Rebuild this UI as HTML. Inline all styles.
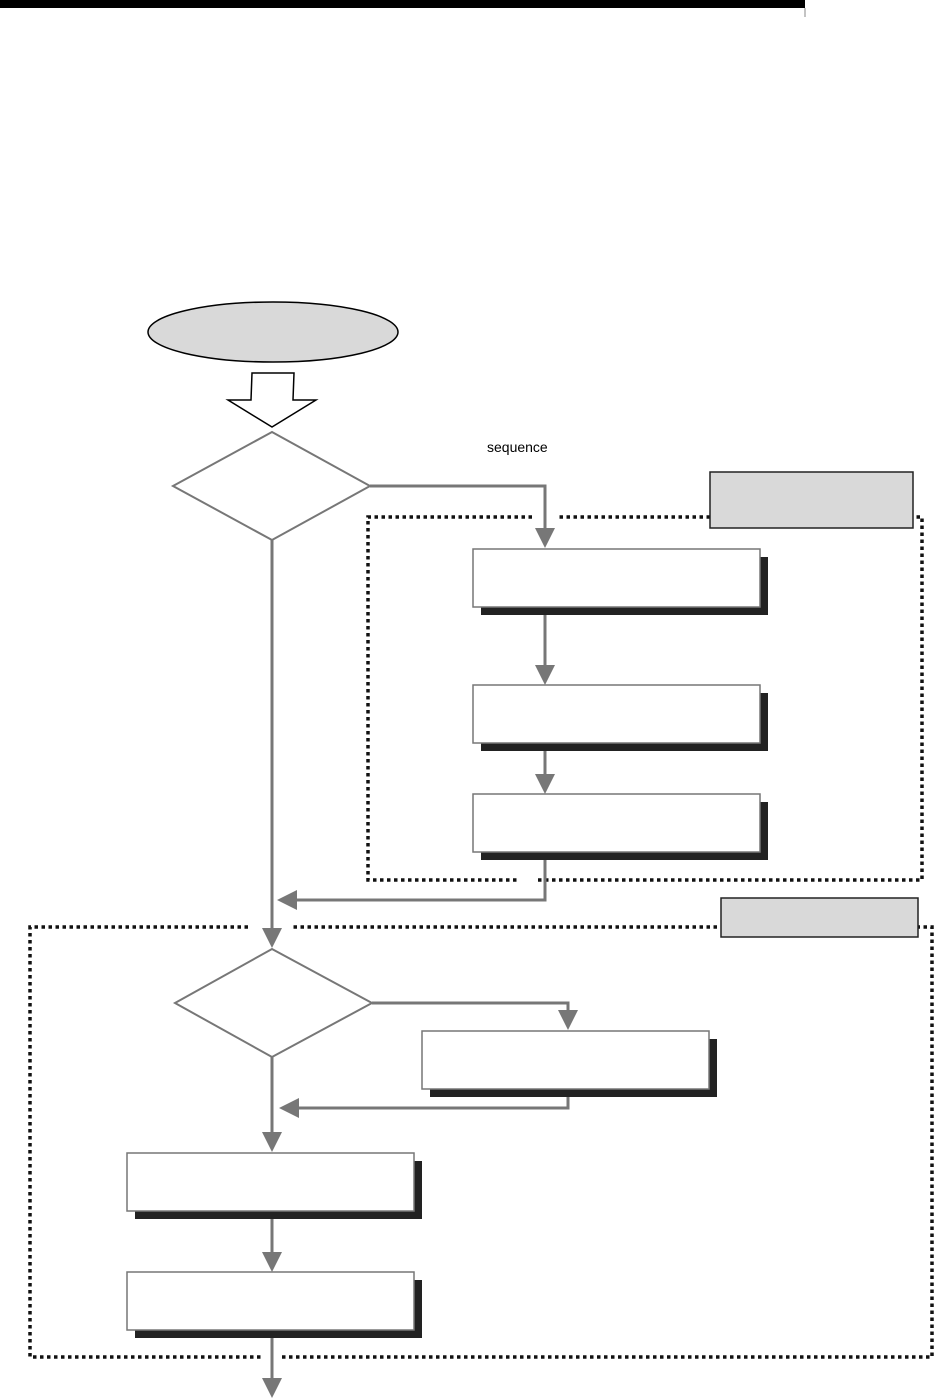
<!DOCTYPE html>
<html><head><meta charset="utf-8"><style>
html,body{margin:0;padding:0;background:#fff;}
svg{display:block;}
</style></head><body>
<svg width="934" height="1399" viewBox="0 0 934 1399" xmlns="http://www.w3.org/2000/svg">
<defs>
<marker id="ah" markerWidth="10" markerHeight="10" refX="9" refY="5" orient="auto" markerUnits="userSpaceOnUse">
</marker>
</defs>
<!-- top bar -->
<rect x="0" y="0" width="805" height="8" fill="#000"/>
<line x1="805" y1="8" x2="805" y2="17" stroke="#888" stroke-width="1"/>

<!-- start ellipse -->
<ellipse cx="273" cy="332" rx="125" ry="30" fill="#d9d9d9" stroke="#000" stroke-width="1.5"/>
<!-- hollow arrow -->
<polygon points="252,373 294,373 293,400 316,400 272,427 228,400 251,400" fill="#fff" stroke="#000" stroke-width="1.5"/>

<text x="487" y="452" font-family="Liberation Sans, sans-serif" font-size="14" fill="#000">sequence</text>

<!-- dotted box 1 -->
<g stroke="#111" stroke-width="3.5" stroke-dasharray="3.5 3.5" fill="none">
<polyline points="532,517 368,517 368,880 517,880"/>
<polyline points="538,880 922,880 922,517 556,517"/>
</g>
<rect x="710" y="472" width="203" height="56" fill="#d9d9d9" stroke="#222" stroke-width="1.5"/>

<!-- dotted box 2 -->
<g stroke="#111" stroke-width="3.5" stroke-dasharray="3.5 3.5" fill="none">
<polyline points="248,927 30,927 30,1357 262,1357"/>
<polyline points="282,1357 932,1357 932,927 292,927"/>
</g>
<rect x="721" y="898" width="197" height="39" fill="#d9d9d9" stroke="#222" stroke-width="1.5"/>

<!-- connectors -->
<g stroke="#777" stroke-width="3" fill="none">
<polyline points="370,486 545,486 545,530"/>
<line x1="272" y1="540" x2="272" y2="930"/>
<line x1="545" y1="615" x2="545" y2="667"/>
<line x1="545" y1="751" x2="545" y2="776"/>
<polyline points="545,860 545,900 295,900"/>
<polyline points="372,1003 568,1003 568,1012"/>
<line x1="272" y1="1057" x2="272" y2="1134"/>
<polyline points="568,1097 568,1108 297,1108"/>
<line x1="272" y1="1219" x2="272" y2="1254"/>
<line x1="272" y1="1338" x2="272" y2="1380"/>
</g>
<g fill="#777">
<polygon points="535,528 555,528 545,548"/>
<polygon points="535,665 555,665 545,685"/>
<polygon points="535,774 555,774 545,794"/>
<polygon points="297,890 297,910 277,900"/>
<polygon points="262,928 282,928 272,948"/>
<polygon points="558,1010 578,1010 568,1030"/>
<polygon points="299,1098 299,1118 279,1108"/>
<polygon points="262,1132 282,1132 272,1152"/>
<polygon points="262,1252 282,1252 272,1272"/>
<polygon points="262,1378 282,1378 272,1398"/>
</g>

<!-- diamonds -->
<polygon points="272,432 370,486 272,540 173,486" fill="#fff" stroke="#777" stroke-width="2"/>
<polygon points="272,949 372,1003 272,1057 175,1003" fill="#fff" stroke="#777" stroke-width="2"/>

<!-- boxes with shadow -->
<g>
<rect x="481" y="557" width="287" height="58" fill="#222"/>
<rect x="473" y="549" width="287" height="58" fill="#fff" stroke="#777" stroke-width="1.5"/>
<rect x="481" y="693" width="287" height="58" fill="#222"/>
<rect x="473" y="685" width="287" height="58" fill="#fff" stroke="#777" stroke-width="1.5"/>
<rect x="481" y="802" width="287" height="58" fill="#222"/>
<rect x="473" y="794" width="287" height="58" fill="#fff" stroke="#777" stroke-width="1.5"/>
<rect x="430" y="1039" width="287" height="58" fill="#222"/>
<rect x="422" y="1031" width="287" height="58" fill="#fff" stroke="#777" stroke-width="1.5"/>
<rect x="135" y="1161" width="287" height="58" fill="#222"/>
<rect x="127" y="1153" width="287" height="58" fill="#fff" stroke="#777" stroke-width="1.5"/>
<rect x="135" y="1280" width="287" height="58" fill="#222"/>
<rect x="127" y="1272" width="287" height="58" fill="#fff" stroke="#777" stroke-width="1.5"/>
</g>
</svg>
</body></html>
